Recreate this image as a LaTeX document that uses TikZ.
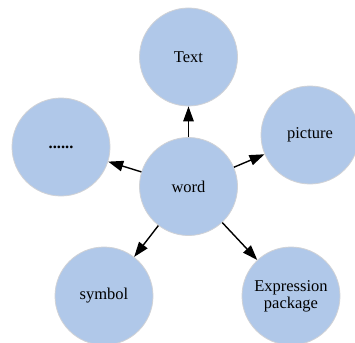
\documentclass[tikz,border=0pt]{standalone}
\usepackage{fontspec}
\setmainfont{Liberation Serif}
\usetikzlibrary{arrows.meta}
\definecolor{bubblefill}{RGB}{176,200,233}
\definecolor{bubbleline}{RGB}{208,210,214}
\begin{document}
\begin{tikzpicture}[x=1pt,y=-1pt,
  bubble/.style={circle,minimum size=98pt,inner sep=0pt,fill=bubblefill,draw=bubbleline,line width=0.8pt,
    font=\fontsize{16.5}{17}\selectfont,align=center},
  link/.style={line width=1.4pt,-{Triangle[length=15pt,width=10.5pt]}}]
\useasboundingbox (0,0) rectangle (355,342);
\node[bubble] (word) at (188.5,186.5) {word};
\node[bubble] (text) at (188.5,57) {Text};
\node[bubble] (dots) at (61,147) {\textbf{......}};
\node[bubble] (pic) at (310,135) {picture};
\node[bubble] (sym) at (104,296) {symbol};
\node[bubble] (expr) at (291,296) {Expression\\package};
\draw[link] (word) -- (text);
\draw[link] (word) -- (dots);
\draw[link] (word) -- (pic);
\draw[link] (word) -- (sym);
\draw[link] (word) -- (expr);
\end{tikzpicture}
\end{document}
